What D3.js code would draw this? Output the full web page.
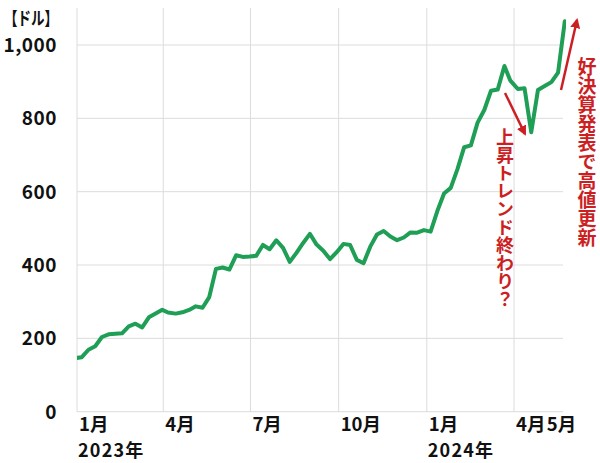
<!DOCTYPE html>
<html><head><meta charset="utf-8">
<script src="https://cdn.jsdelivr.net/npm/d3@7"></script>
<style>
html,body{margin:0;padding:0;background:#fff;}
svg{display:block;}
text{font-family:"Noto Sans CJK JP","Noto Sans",sans-serif;font-weight:bold;}
</style></head>
<body>
<script>
// weekly closing dates (Fridays / last trading day)
const dates = [
"2022-12-30",
"2023-01-06","2023-01-13","2023-01-20","2023-01-27",
"2023-02-03","2023-02-10","2023-02-17","2023-02-24",
"2023-03-03","2023-03-10","2023-03-17","2023-03-24","2023-03-31",
"2023-04-06","2023-04-14","2023-04-21","2023-04-28",
"2023-05-05","2023-05-12","2023-05-19","2023-05-26",
"2023-06-02","2023-06-09","2023-06-16","2023-06-23","2023-06-30",
"2023-07-07","2023-07-14","2023-07-21","2023-07-28",
"2023-08-04","2023-08-11","2023-08-18","2023-08-25",
"2023-09-01","2023-09-08","2023-09-15","2023-09-22","2023-09-29",
"2023-10-06","2023-10-13","2023-10-20","2023-10-27",
"2023-11-03","2023-11-10","2023-11-17","2023-11-24",
"2023-12-01","2023-12-08","2023-12-15","2023-12-22","2023-12-29",
"2024-01-05","2024-01-12","2024-01-19","2024-01-26",
"2024-02-02","2024-02-09","2024-02-16","2024-02-23",
"2024-03-01","2024-03-08","2024-03-15","2024-03-22","2024-03-28",
"2024-04-05","2024-04-12","2024-04-19","2024-04-26",
"2024-05-03","2024-05-10","2024-05-17","2024-05-24"
];
// share price (USD)
const prices = [
146.1,
148.6,169.0,178.4,203.7,
211.0,212.7,213.9,232.9,
239.9,229.7,257.3,267.8,277.8,
270.4,267.5,271.1,277.5,
287.3,283.4,312.6,389.5,
393.3,387.7,426.5,422.1,423.0,
425.0,454.7,443.1,467.5,
446.8,408.6,433.0,460.2,
485.1,455.7,439.0,416.1,435.0,
457.6,454.6,413.9,405.0,
450.1,483.4,493.0,477.8,
467.7,475.1,488.9,488.3,495.2,
491.0,547.1,594.9,610.3,
661.6,721.3,726.1,788.2,
822.8,875.3,878.4,942.9,903.6,
880.1,881.9,762.0,877.4,
887.9,898.8,924.8,1064.7
];
const yTicks = [0,200,400,600,800,1000];
const xTickDates = ["2023-01-01","2023-04-01","2023-07-01","2023-10-01","2024-01-01","2024-04-01"];
const xLabelDates = ["2023-01-01","2023-04-01","2023-07-01","2023-10-01","2024-01-01","2024-04-01","2024-05-01"];
const xLabels = ["1月","4月","7月","10月","1月","4月","5月"];
const xYearLabels = ["2023年","","","","2024年","",""];
const unitLabel = "【ドル】";
const note1 = "上昇トレンド終わり？";
const note2 = "好決算発表で高値更新";

const W=600,H=463;
const parse=d3.timeParse("%Y-%m-%d");
const data=dates.map((d,i)=>({date:parse(d),v:prices[i]}));

const x=d3.scaleTime().domain([parse("2023-01-01"),parse("2024-04-01")]).range([77,514]);
const y=d3.scaleLinear().domain([0,1000]).range([411.7,45]);
const plotRight=563;

const svg=d3.select("body").append("svg").attr("width",W).attr("height",H);

svg.append("defs").append("clipPath").attr("id","clip")
  .append("rect").attr("x",77).attr("y",0).attr("width",plotRight+3-77).attr("height",H);
const mk=svg.select("defs").append("marker").attr("id","ah")
  .attr("viewBox","0 0 10 10").attr("refX",8).attr("refY",5)
  .attr("markerWidth",4).attr("markerHeight",4).attr("orient","auto")
  .attr("markerUnits","strokeWidth");
mk.append("path").attr("d","M0,0L10,5L0,10z").attr("fill","#cc1f24");

// horizontal grid
svg.append("g").selectAll("line").data(yTicks).join("line")
  .attr("x1",77).attr("x2",plotRight)
  .attr("y1",d=>y(d)).attr("y2",d=>y(d))
  .attr("stroke","#dcdcdc").attr("stroke-width",1);
// vertical grid
svg.append("g").selectAll("line").data(xTickDates).join("line")
  .attr("x1",d=>x(parse(d))).attr("x2",d=>x(parse(d)))
  .attr("y1",8).attr("y2",y(0))
  .attr("stroke","#dcdcdc").attr("stroke-width",1);

// y labels
svg.append("g").selectAll("text").data(yTicks).join("text")
  .attr("x",57).attr("y",d=>y(d)).attr("dy","0.36em")
  .attr("text-anchor","end").attr("font-size",19).attr("letter-spacing",0.5).attr("fill","#111")
  .text(d=>d3.format(",")(d));
svg.append("text").attr("x",4).attr("y",25).attr("font-size",18).attr("fill","#111")
  .attr("textLength",54).attr("lengthAdjust","spacingAndGlyphs").text(unitLabel);

// x labels
const xl=svg.append("g");
xl.selectAll("text.m").data(xLabelDates).join("text").attr("class","m")
  .attr("x",(d,i)=>x(parse(d))+(i===xLabelDates.length-1?4:2)).attr("y",430.5)
  .attr("font-size",18.5).attr("fill","#111")
  .text((d,i)=>xLabels[i]);
xl.selectAll("text.yr").data(xLabelDates.filter((d,i)=>xYearLabels[i])).join("text").attr("class","yr")
  .attr("x",d=>x(parse(d))+1).attr("y",457).attr("font-size",18).attr("letter-spacing",1.2).attr("fill","#111")
  .text(d=>xYearLabels[xLabelDates.indexOf(d)]);

// line
const line=d3.line().x(d=>x(d.date)).y(d=>y(d.v));
svg.append("path").datum(data).attr("clip-path","url(#clip)")
  .attr("d",line).attr("fill","none").attr("stroke","#1f9e55")
  .attr("stroke-width",4).attr("stroke-linejoin","round").attr("stroke-linecap","round");

// annotations
svg.append("line").attr("x1",505).attr("y1",93).attr("x2",525).attr("y2",134)
  .attr("stroke","#cc1f24").attr("stroke-width",2.5).attr("marker-end","url(#ah)");
svg.append("line").attr("x1",561).attr("y1",90).attr("x2",577).attr("y2",20)
  .attr("stroke","#cc1f24").attr("stroke-width",2.5).attr("marker-end","url(#ah)");

svg.append("text").attr("x",505).attr("y",128).attr("font-size",18).attr("fill","#cc1f24")
  .style("writing-mode","vertical-rl").style("text-orientation","upright").text(note1);
svg.append("text").attr("x",587).attr("y",57).attr("font-size",19).attr("fill","#cc1f24")
  .style("writing-mode","vertical-rl").style("text-orientation","upright").text(note2);
</script>
</body></html>
